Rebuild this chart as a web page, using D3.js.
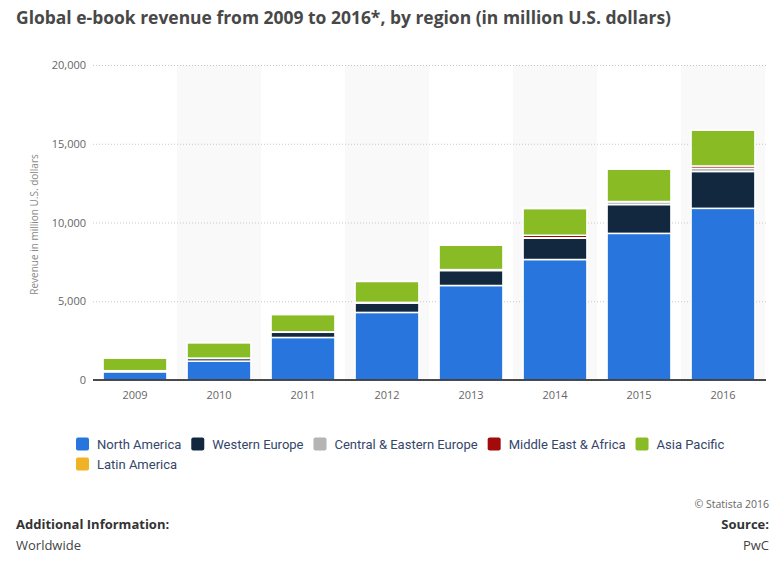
<!DOCTYPE html>
<html>
<head>
<meta charset="utf-8">
<script src="https://cdn.jsdelivr.net/npm/d3@7"></script>
<style>
  html, body { margin: 0; padding: 0; background: #fff; }
  svg { display: block; }
</style>
</head>
<body>
<svg id="chart" width="780" height="562"></svg>
<script>
// ---- Data ----
const years = ["2009", "2010", "2011", "2012", "2013", "2014", "2015", "2016"];
const northAmerica         = [520, 1200, 2700, 4290, 6000, 7650, 9310, 10900];
const westernEurope        = [60, 170, 330, 600, 950, 1350, 1830, 2340];
const centralEasternEurope = [5, 10, 15, 20, 30, 30, 180, 200];
const middleEastAfrica     = [5, 10, 15, 20, 30, 160, 10, 150];
const asiaPacific          = [800, 980, 1100, 1330, 1550, 1700, 2060, 2280];
const latinAmerica         = [5, 10, 15, 20, 20, 20, 20, 20];
const seriesNames = ["North America", "Western Europe", "Central & Eastern Europe", "Middle East & Africa", "Asia Pacific", "Latin America"];
const seriesColors = ["#2876dd", "#11283f", "#b4b4b4", "#a30b0b", "#88bb24", "#efb325"];
const yTicks = [0, 5000, 10000, 15000, 20000];
const title = "Global e-book revenue from 2009 to 2016*, by region (in million U.S. dollars)";
const yAxisTitle = "Revenue in million U.S. dollars";

const seriesValues = [northAmerica, westernEurope, centralEasternEurope, middleEastAfrica, asiaPacific, latinAmerica];
const table = years.map((y, i) => {
  const row = { year: y };
  seriesNames.forEach((n, k) => row[n] = seriesValues[k][i]);
  return row;
});

// ---- Layout ----
const svg = d3.select("#chart");
const plot = { left: 93, right: 765, top: 65, bottom: 380 };

const x = d3.scaleBand().domain(years).range([plot.left, plot.right])
  .paddingInner(0.24).paddingOuter(0.12);
const y = d3.scaleLinear().domain([0, 20000]).range([plot.bottom, plot.top]);
const color = d3.scaleOrdinal().domain(seriesNames).range(seriesColors);

// Title
svg.append("text")
  .attr("x", 16).attr("y", 24)
  .attr("font-family", "Open Sans, sans-serif")
  .attr("font-weight", "bold").attr("font-size", 18)
  .attr("fill", "#484848")
  .attr("textLength", 655).attr("lengthAdjust", "spacingAndGlyphs")
  .text(title);

// Alternating column bands
const step = x.step();
svg.append("g").selectAll("rect")
  .data(years.filter((d, i) => i % 2 === 1))
  .join("rect")
  .attr("x", d => x(d) + x.bandwidth() / 2 - step / 2)
  .attr("width", step)
  .attr("y", plot.top)
  .attr("height", plot.bottom - plot.top)
  .attr("fill", "#f9f9f9");

// Grid lines
const yAxis = d3.axisLeft(y).tickValues(yTicks)
  .tickSize(-(plot.right - plot.left + 1))
  .tickPadding(8)
  .tickFormat(d3.format(","));
const gy = svg.append("g").attr("transform", `translate(${plot.left},0)`).call(yAxis);
gy.select(".domain").remove();
gy.selectAll(".tick line")
  .attr("x1", 0)
  .attr("stroke", "#c8c8c8").attr("stroke-dasharray", "1,2");
gy.selectAll(".tick text")
  .attr("font-family", "Open Sans, sans-serif").attr("font-size", 11)
  .attr("fill", "#666").attr("x", -7);

// Stacked bars
const stack = d3.stack().keys(seriesNames);
const stacked = stack(table);
svg.append("g").selectAll("g")
  .data(stacked)
  .join("g")
  .attr("fill", d => color(d.key))
  .selectAll("rect")
  .data(d => d)
  .join("rect")
  .attr("x", d => x(d.data.year))
  .attr("width", x.bandwidth())
  .attr("y", d => y(d[1]))
  .attr("height", d => y(d[0]) - y(d[1]))
  .attr("stroke", "#fff").attr("stroke-width", 1.5);

// X axis
const xAxis = d3.axisBottom(x).tickSize(0).tickPadding(11);
const gx = svg.append("g").attr("transform", `translate(0,${plot.bottom})`).call(xAxis);
gx.select(".domain").remove();
gx.selectAll(".tick text")
  .attr("font-family", "Open Sans, sans-serif").attr("font-size", 11)
  .attr("fill", "#666");
svg.append("line")
  .attr("x1", plot.left).attr("x2", plot.right + 1)
  .attr("y1", y(0)).attr("y2", y(0))
  .attr("stroke", "#111").attr("stroke-width", 1.5);

// Y axis title
svg.append("text")
  .attr("transform", `translate(38,${(plot.top + plot.bottom) / 2 + 2}) rotate(-90)`)
  .attr("text-anchor", "middle")
  .attr("font-family", "Open Sans, sans-serif").attr("font-size", 10)
  .attr("fill", "#888")
  .text(yAxisTitle);

// Legend
const legend = svg.append("g");
let lx = 76, ly = 444;
seriesNames.forEach((name, i) => {
  if (i === 5) { lx = 76; ly = 464; }
  const g = legend.append("g").attr("transform", `translate(${lx},${ly})`);
  g.append("rect").attr("x", 0).attr("y", -6.5).attr("width", 13).attr("height", 13)
    .attr("rx", 2).attr("fill", color(name));
  const t = g.append("text").attr("x", 21).attr("y", 4.5)
    .attr("font-family", "Roboto, sans-serif").attr("font-size", 13)
    .attr("fill", "#34466a").text(name);
  lx += 21 + t.node().getComputedTextLength() + 10;
});

// Footer
const foot = svg.append("g").attr("font-family", "Open Sans, sans-serif");
foot.append("text").attr("x", 769).attr("y", 508).attr("text-anchor", "end")
  .attr("font-size", 10.5).attr("fill", "#666").text("© Statista 2016");
foot.append("text").attr("x", 16).attr("y", 529)
  .attr("font-size", 13).attr("font-weight", "bold").attr("fill", "#333")
  .text("Additional Information:");
foot.append("text").attr("x", 16).attr("y", 550)
  .attr("font-size", 13).attr("fill", "#444").text("Worldwide");
foot.append("text").attr("x", 769).attr("y", 529).attr("text-anchor", "end")
  .attr("font-size", 13).attr("font-weight", "bold").attr("fill", "#333").text("Source:");
foot.append("text").attr("x", 769).attr("y", 550).attr("text-anchor", "end")
  .attr("font-size", 13).attr("fill", "#444").text("PwC");
</script>
</body>
</html>
